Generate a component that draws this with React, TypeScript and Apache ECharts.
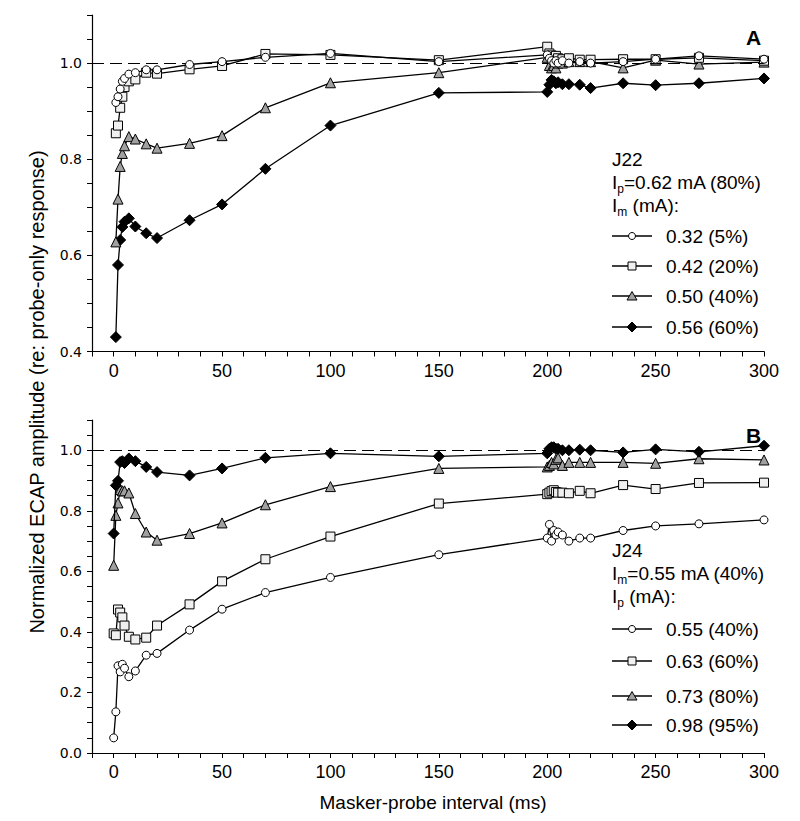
import React, { useEffect, useRef } from 'react';
import * as echarts from 'echarts';

// ---------- data ----------
const xTop = [1, 2, 3, 4, 5, 7, 10, 15, 20, 35, 50, 70, 100, 150, 200, 201, 202, 203, 204, 205, 207, 210, 215, 220, 235, 250, 270, 300];
const topIm032 = [0.918, 0.93, 0.946, 0.962, 0.968, 0.977, 0.98, 0.986, 0.986, 0.997, 1.003, 1.012, 1.02, 1.003, 1.017, 1.01, 1.005, 1.0, 1.005, 1.0, 1.005, 1.0, 1.003, 1.0, 1.003, 1.008, 1.015, 1.008];
const topIm042 = [0.854, 0.87, 0.907, 0.93, 0.95, 0.962, 0.966, 0.98, 0.978, 0.987, 0.994, 1.019, 1.017, 1.006, 1.034, 1.02, 1.016, 1.012, 1.015, 1.01, 1.008, 1.01, 1.007, 1.007, 1.008, 1.008, 1.011, 1.005];
const topIm050 = [0.628, 0.717, 0.785, 0.812, 0.828, 0.847, 0.842, 0.832, 0.823, 0.833, 0.849, 0.907, 0.959, 0.98, 1.012, 0.995, 0.99, 0.995, 0.99, 1.0, 1.0, 1.003, 1.003, 1.003, 0.99, 1.006, 0.998, 1.002];
const topIm056 = [0.43, 0.58, 0.632, 0.659, 0.67, 0.677, 0.66, 0.646, 0.636, 0.673, 0.706, 0.78, 0.87, 0.938, 0.94, 0.955, 0.965, 0.962, 0.958, 0.96, 0.956, 0.956, 0.955, 0.948, 0.958, 0.954, 0.958, 0.968];

const xBottom = [0, 1, 2, 3, 4, 5, 7, 10, 15, 20, 35, 50, 70, 100, 150, 200, 201, 202, 203, 204, 205, 207, 210, 215, 220, 235, 250, 270, 300];
const botIp055 = [0.05, 0.136, 0.288, 0.268, 0.293, 0.28, 0.252, 0.271, 0.323, 0.329, 0.406, 0.475, 0.53, 0.58, 0.655, 0.71, 0.755, 0.7, 0.735, 0.72, 0.73, 0.72, 0.7, 0.71, 0.71, 0.735, 0.75, 0.757, 0.77];
const botIp063 = [0.395, 0.389, 0.474, 0.464, 0.448, 0.421, 0.384, 0.375, 0.381, 0.421, 0.491, 0.567, 0.64, 0.715, 0.824, 0.855, 0.86, 0.865, 0.868, 0.862, 0.86, 0.86, 0.858, 0.866, 0.858, 0.885, 0.872, 0.892, 0.893];
const botIp073 = [0.62, 0.785, 0.826, 0.87, 0.866, 0.866, 0.859, 0.791, 0.73, 0.703, 0.725, 0.76, 0.82, 0.88, 0.94, 0.945, 0.95, 0.96, 0.955, 0.97, 0.975, 0.95, 0.96, 0.96, 0.96, 0.96, 0.957, 0.972, 0.968];
const botIp098 = [0.725, 0.884, 0.899, 0.961, 0.964, 0.958, 0.973, 0.964, 0.945, 0.928, 0.917, 0.94, 0.975, 0.99, 0.98, 0.99, 1.005, 1.01, 1.01, 1.005, 1.005, 1.0, 1.0, 1.002, 1.0, 0.993, 1.003, 0.995, 1.015];

const topLegendLabels = ['0.32 (5%)', '0.42 (20%)', '0.50 (40%)', '0.56 (60%)'];
const bottomLegendLabels = ['0.55 (40%)', '0.63 (60%)', '0.73 (80%)', '0.98 (95%)'];
const xTickLabels = [0, 50, 100, 150, 200, 250, 300];
const yTopLabels = [0.4, 0.6, 0.8, 1.0];
const yBottomLabels = [0, 0.2, 0.4, 0.6, 0.8, 1.0];

// ---------- styles ----------
const FONT = '"Liberation Sans", Arial, sans-serif';
const SQUARE_FILL = '#f0f0f0';
const TRI_FILL = '#a0a0a0';

const markerStyles = [
  { symbol: 'circle', size: 8, fill: '#ffffff' },
  { symbol: 'rect', size: 9, fill: SQUARE_FILL },
  { symbol: 'triangle', size: 10, fill: TRI_FILL },
  { symbol: 'diamond', size: 11, fill: '#000000' },
];

function legendMarker(kind: number, cx: number, cy: number) {
  const st = { fill: markerStyles[kind].fill, stroke: '#000', lineWidth: 1 };
  if (kind === 0) return { type: 'circle', shape: { cx, cy, r: 3.5 }, style: st, z: 10 };
  if (kind === 1) return { type: 'rect', shape: { x: cx - 4, y: cy - 4, width: 8, height: 8 }, style: st, z: 10 };
  if (kind === 2)
    return { type: 'polygon', shape: { points: [[cx, cy - 4.5], [cx + 5, cy + 4], [cx - 5, cy + 4]] }, style: st, z: 10 };
  return { type: 'polygon', shape: { points: [[cx, cy - 5], [cx + 5, cy], [cx, cy + 5], [cx - 5, cy]] }, style: st, z: 10 };
}

function txt(text: string, x: number, y: number, size = 19, weight = 'normal') {
  return {
    type: 'text',
    x,
    y,
    z: 10,
    style: { text, fill: '#000', font: `${weight} ${size}px ${FONT}`, textVerticalAlign: 'middle' },
  };
}

export default function App() {
  const ref = useRef<HTMLDivElement>(null);

  useEffect(() => {
    if (!ref.current) return;
    const chart = echarts.init(ref.current, null, { renderer: 'svg' });

    const near = (v: number, arr: number[]) => arr.some((a) => Math.abs(a - v) < 1e-6);

    const xAxisBase = (gridIndex: number) => ({
      type: 'value',
      gridIndex,
      min: -10,
      max: 300,
      interval: 10,
      axisLine: { show: true, onZero: false, lineStyle: { color: '#000', width: 1.2 } },
      axisTick: { show: true, length: 5, lineStyle: { color: '#000', width: 1 } },
      splitLine: { show: false },
      axisLabel: {
        color: '#000',
        fontFamily: FONT,
        fontSize: 18,
        margin: 10,
        formatter: (v: number) => (near(v, xTickLabels) ? String(Math.round(v)) : ''),
      },
    });

    const yAxisBase = (gridIndex: number, min: number, labels: number[]) => ({
      type: 'value',
      gridIndex,
      min,
      max: 1.1,
      interval: 0.05,
      axisLine: { show: true, onZero: false, lineStyle: { color: '#000', width: 1.2 } },
      axisTick: { show: true, length: 5, lineStyle: { color: '#000', width: 1 } },
      splitLine: { show: false },
      axisLabel: {
        color: '#000',
        fontFamily: '"DejaVu Sans", sans-serif',
        fontSize: 14,
        margin: 10,
        formatter: (v: number) => (near(v, labels) ? v.toFixed(1) : ''),
      },
    });

    const mk = (name: string, xs: number[], ys: number[], kind: number, gi: number, z: number) => ({
      type: 'line',
      name,
      xAxisIndex: gi,
      yAxisIndex: gi,
      data: xs.map((x, i) => [x, ys[i]]),
      symbol: markerStyles[kind].symbol,
      symbolSize: markerStyles[kind].size,
      showSymbol: true,
      showAllSymbol: true,
      itemStyle: { color: markerStyles[kind].fill, borderColor: '#000', borderWidth: 1 },
      lineStyle: { color: '#000', width: 1.3 },
      emphasis: { disabled: true },
      z,
    });

    const dashed = {
      silent: true,
      symbol: 'none',
      label: { show: false },
      lineStyle: { color: '#000', width: 1.2, type: [12, 6] },
      data: [{ yAxis: 1 }],
    };

    const s = [
      { ...mk('0.56 (60%)', xTop, topIm056, 3, 0, 2), markLine: dashed },
      mk('0.50 (40%)', xTop, topIm050, 2, 0, 3),
      mk('0.42 (20%)', xTop, topIm042, 1, 0, 4),
      mk('0.32 (5%)', xTop, topIm032, 0, 0, 5),
      { ...mk('0.55 (40%)', xBottom, botIp055, 0, 1, 2), markLine: dashed },
      mk('0.63 (60%)', xBottom, botIp063, 1, 1, 3),
      mk('0.73 (80%)', xBottom, botIp073, 2, 1, 4),
      mk('0.98 (95%)', xBottom, botIp098, 3, 1, 5),
    ];

    const graphics: any[] = [];
    // panel letters
    graphics.push(txt('A', 746, 37, 21, 'bold'));
    graphics.push(txt('B', 746, 435, 21, 'bold'));

    // top legend header
    const LX = 612;
    graphics.push(txt('J22', LX, 159));
    graphics.push(txt('I', LX, 182));
    graphics.push(txt('p', LX + 5.3, 189, 12));
    graphics.push(txt('=0.62 mA (80%)', LX + 12, 182));
    graphics.push(txt('I', LX, 205));
    graphics.push(txt('m', LX + 5.3, 212, 12));
    graphics.push(txt(' (mA):', LX + 15.3, 205));

    const topRows = [236, 266, 296, 327];
    topRows.forEach((y, i) => {
      graphics.push({ type: 'line', shape: { x1: LX, y1: y, x2: LX + 40, y2: y }, style: { stroke: '#000', lineWidth: 1.3 }, z: 9 });
      graphics.push(legendMarker(i, LX + 20, y));
      graphics.push(txt(topLegendLabels[i], LX + 54, y));
    });

    // bottom legend header
    graphics.push(txt('J24', LX, 550));
    graphics.push(txt('I', LX, 573));
    graphics.push(txt('m', LX + 5.3, 580, 12));
    graphics.push(txt('=0.55 mA (40%)', LX + 15.3, 573));
    graphics.push(txt('I', LX, 596));
    graphics.push(txt('p', LX + 5.3, 603, 12));
    graphics.push(txt(' (mA):', LX + 12, 596));

    const botRows = [629, 661, 696, 725];
    botRows.forEach((y, i) => {
      graphics.push({ type: 'line', shape: { x1: LX, y1: y, x2: LX + 40, y2: y }, style: { stroke: '#000', lineWidth: 1.3 }, z: 9 });
      graphics.push(legendMarker(i, LX + 20, y));
      graphics.push(txt(bottomLegendLabels[i], LX + 54, y));
    });

    // y axis title
    graphics.push({
      type: 'text',
      x: 37,
      y: 392,
      rotation: Math.PI / 2,
      z: 10,
      style: {
        text: 'Normalized ECAP amplitude (re: probe-only response)',
        fill: '#000',
        font: `20px ${FONT}`,
        textAlign: 'center',
        textVerticalAlign: 'middle',
      },
    });
    // x axis title
    graphics.push({
      type: 'text',
      x: 433,
      y: 802,
      z: 10,
      style: {
        text: 'Masker-probe interval (ms)',
        fill: '#000',
        font: `19px ${FONT}`,
        textAlign: 'center',
        textVerticalAlign: 'middle',
      },
    });

    chart.setOption({
      animation: false,
      backgroundColor: '#ffffff',
      grid: [
        { left: 92, top: 15, width: 672, height: 336.5, containLabel: false },
        { left: 92, top: 420, width: 672, height: 333, containLabel: false },
      ],
      xAxis: [xAxisBase(0), xAxisBase(1)],
      yAxis: [yAxisBase(0, 0.4, yTopLabels), yAxisBase(1, 0, yBottomLabels)],
      series: s,
      graphic: graphics,
    });

    return () => chart.dispose();
  }, []);

  return <div ref={ref} style={{ position: 'absolute', left: 0, top: 0, width: 800, height: 821, background: '#fff' }} />;
}
